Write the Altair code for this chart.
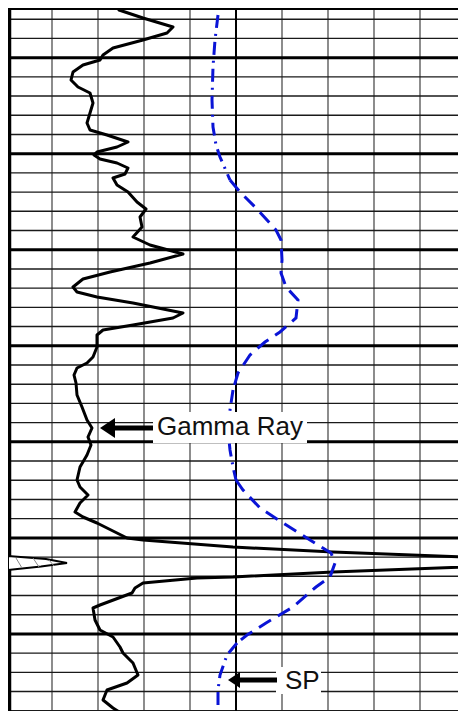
import altair as alt
import pandas as pd

# ---------------- data ----------------
# horizontal reading: 46 units per grid division (0 = left edge of track)
# depth reading: one thin grid line every 19.21 depth units
DIV = 46
LINE_STEP = 19.21

# Gamma Ray trace
gr_x = [113, 137, 167, 161, 137, 107, 97, 94, 77, 67,
        65, 72, 84, 87, 84, 81, 84, 101, 122, 111,
        91, 88, 94, 111, 122, 119, 107, 111, 122, 131,
        140, 134, 136, 127, 144, 177, 144, 104, 77, 67,
        71, 91, 127, 177, 167, 127, 97, 91, 91, 87,
        81, 71, 68, 70, 71, 76, 81, 86, 82, 85,
        81, 74, 71, 74, 82, 74, 69, 77, 91, 111,
        121, 137, 227, 327, 594, 327, 227, 191, 137, 129,
        126, 94, 87, 89, 94, 107, 114, 117, 127, 132,
        121, 101, 97, 107, 121, 129]
gr_depth = [10, 18, 27, 33, 40, 48, 55, 60, 65, 72,
            80, 87, 93, 103, 113, 123, 130, 135, 142, 147,
            152, 155, 159, 163, 168, 174, 178, 185, 192, 202,
            209, 217, 227, 237, 245, 254, 263, 272, 279, 287,
            292, 297, 303, 313, 318, 325, 330, 335, 347, 357,
            363, 368, 375, 383, 395, 407, 420, 428, 437, 445,
            455, 467, 480, 487, 495, 503, 512, 517, 523, 533,
            538, 540, 547, 552, 562, 572, 577, 578, 583, 588,
            593, 605, 608, 620, 630, 637, 647, 653, 663, 675,
            683, 690, 700, 708, 717, 725]

# SP trace
sp_x = [212, 209, 207, 206, 207, 210, 214, 224,
        234, 250, 270, 275, 276, 275, 280, 292, 290, 274, 259, 244, 232, 227,
        224, 222, 224, 227, 230,
        237, 254, 277, 304, 325, 329, 324, 310, 287, 260, 241, 231,
        221, 214, 212, 212, 212]
sp_depth = [15, 40, 67, 100, 127, 145, 157, 180,
            192, 208, 230, 240, 260, 273, 287, 300, 318, 332, 342, 355, 373, 390,
            410, 430, 450, 467, 480,
            490, 508, 523, 540, 553, 563, 577, 587, 607, 623, 635, 643,
            655, 675, 690, 710, 725]
sp_seg = ["A"] * 8 + ["B"] * 14 + ["C"] * 5 + ["D"] * 12 + ["E"] * 5
seg_style = {"A": "dashdot", "B": "dash", "C": "dashdot", "D": "dash", "E": "dashdot"}

# small hatched wedge at the left edge
wedge_depth = [556, 559, 563, 566.5, 570]
wedge_x = [2, 40, 61, 35, 2]
hatch_x1 = [10, 27, 43]
hatch_x2 = [16, 33, 48]
hatch_d1 = [558, 558, 560]
hatch_d2 = [568, 567, 566]

# labels with arrows
label_text = ["Gamma Ray", "SP"]
label_x = [151, 279]
label_depth = [435, 689]
box_x1 = [147, 270]
box_x2 = [301, 315]
box_d1 = [412, 667]
box_d2 = [443, 694]
shaft_x1 = [108, 232]
shaft_x2 = [147, 271]
shaft_depth = [428, 680]
head_x = [101.5, 228]
head_size = [400, 256]

# ---------------- build tables ----------------
assert len(gr_x) == len(gr_depth)
assert len(sp_x) == len(sp_depth) == len(sp_seg)

gr_df = pd.DataFrame({"x": gr_x, "d": gr_depth, "o": range(len(gr_x))})

rows = []
o = 0
for i, (x, d, s) in enumerate(zip(sp_x, sp_depth, sp_seg)):
    if i > 0 and sp_seg[i - 1] != s:
        rows.append({"x": sp_x[i - 1], "d": sp_depth[i - 1], "seg": s,
                     "style": seg_style[s], "o": o})
        o += 1
    rows.append({"x": x, "d": d, "seg": s, "style": seg_style[s], "o": o})
    o += 1
sp_df = pd.DataFrame(rows)

vx = [DIV * k for k in range(1, 11) if k != 5]
vgrid = pd.DataFrame({"x": vx, "d1": 10, "d2": 730})
vcenter = pd.DataFrame({"x": [DIV * 5], "d1": [10], "d2": [730]})
hk = list(range(1, 39))
hgrid = pd.DataFrame({"d": [LINE_STEP * k for k in hk],
                      "thick": [k % 5 == 3 for k in hk],
                      "x1": 3.5, "x2": 470})
left_border = pd.DataFrame({"x": [3.5], "d1": [10], "d2": [730]})
top_border = pd.DataFrame({"d": [9], "x1": [2], "x2": [470]})

wedge_df = pd.DataFrame({"d": wedge_depth, "x": wedge_x, "x0": 2})
hatch_df = pd.DataFrame({"x1": hatch_x1, "x2": hatch_x2, "d1": hatch_d1, "d2": hatch_d2})
lab_df = pd.DataFrame({"t": label_text, "x": label_x, "d": label_depth,
                       "bx1": box_x1, "bx2": box_x2, "bd1": box_d1, "bd2": box_d2,
                       "sx1": shaft_x1, "sx2": shaft_x2, "sd": shaft_depth,
                       "hx": head_x, "hs": head_size})

# ---------------- scales ----------------
W, H = 450, 703
X0, Y0 = 2, 8
xs = alt.Scale(domain=[X0, X0 + W], nice=False, zero=False)
ys = alt.Scale(domain=[Y0, Y0 + H], nice=False, zero=False, reverse=True)


def X(f):
    return alt.X(f, type="quantitative", scale=xs, axis=None)


def Y(f):
    return alt.Y(f, type="quantitative", scale=ys, axis=None)


vg = alt.Chart(vgrid).mark_rule(color="#707070", strokeWidth=1.6, clip=True).encode(
    x=X("x"), y=Y("d1"), y2=alt.Y2("d2"))
vc = alt.Chart(vcenter).mark_rule(color="#000000", strokeWidth=2, clip=True).encode(
    x=X("x"), y=Y("d1"), y2=alt.Y2("d2"))
hg_thin = alt.Chart(hgrid).transform_filter("!datum.thick").mark_rule(
    color="#1a1a1a", strokeWidth=1.4, clip=True).encode(
    y=Y("d"), x=X("x1"), x2=alt.X2("x2"))
hg_thick = alt.Chart(hgrid).transform_filter("datum.thick").mark_rule(
    color="#000000", strokeWidth=3, clip=True).encode(
    y=Y("d"), x=X("x1"), x2=alt.X2("x2"))
lb = alt.Chart(left_border).mark_rule(color="#000000", strokeWidth=3.5, clip=True).encode(
    x=X("x"), y=Y("d1"), y2=alt.Y2("d2"))
tb = alt.Chart(top_border).mark_rule(color="#000000", strokeWidth=2.2, clip=True).encode(
    y=Y("d"), x=X("x1"), x2=alt.X2("x2"))

gr_line = alt.Chart(gr_df).mark_line(color="#000000", strokeWidth=3, clip=True,
                                     strokeJoin="round", strokeCap="round").encode(
    x=X("x"), y=Y("d"), order="o:Q")

sp_line = alt.Chart(sp_df).mark_line(color="#0a14d6", strokeWidth=3, clip=True,
                                     strokeCap="butt").encode(
    x=X("x"), y=Y("d"), order="o:Q", detail="seg:N",
    strokeDash=alt.StrokeDash("style:N", legend=None,
                              scale=alt.Scale(domain=["dashdot", "dash"],
                                              range=[[13, 6, 2, 6], [14, 8]])))

wedge = alt.Chart(wedge_df).mark_area(orient="horizontal", fill="#ffffff",
                                      stroke="#000000", strokeWidth=2, clip=True).encode(
    y=Y("d"), x=X("x"), x2=alt.X2("x0"))
hatch = alt.Chart(hatch_df).mark_rule(color="#888888", strokeWidth=1, clip=True).encode(
    x=X("x1"), x2=alt.X2("x2"), y=Y("d1"), y2=alt.Y2("d2"))

boxes = alt.Chart(lab_df).mark_rect(color="#ffffff", clip=True).encode(
    x=X("bx1"), x2=alt.X2("bx2"), y=Y("bd1"), y2=alt.Y2("bd2"))
texts = alt.Chart(lab_df).mark_text(align="left", baseline="alphabetic",
                                    font="Liberation Sans", fontSize=26,
                                    color="#111111").encode(
    x=X("x"), y=Y("d"), text="t:N")
shafts = alt.Chart(lab_df).mark_rule(color="#000000", strokeWidth=5).encode(
    x=X("sx1"), x2=alt.X2("sx2"), y=Y("sd"))
heads = alt.Chart(lab_df).mark_point(shape="M-0.75,0L0.75,-1L0.75,1Z", filled=True,
                                     color="#000000", opacity=1, strokeWidth=0).encode(
    x=X("hx"), y=Y("sd"), size=alt.Size("hs:Q", scale=None, legend=None))

chart = alt.layer(vg, hg_thin, hg_thick, vc, lb, tb, gr_line, sp_line, wedge, hatch,
                  boxes, texts, shafts, heads).properties(
    width=W, height=H,
    autosize=alt.AutoSizeParams(type="none"),
    padding=0,
    background="#ffffff",
).configure_view(stroke=None)

chart.save("out.html", embed_options={"renderer": "svg", "actions": False})
